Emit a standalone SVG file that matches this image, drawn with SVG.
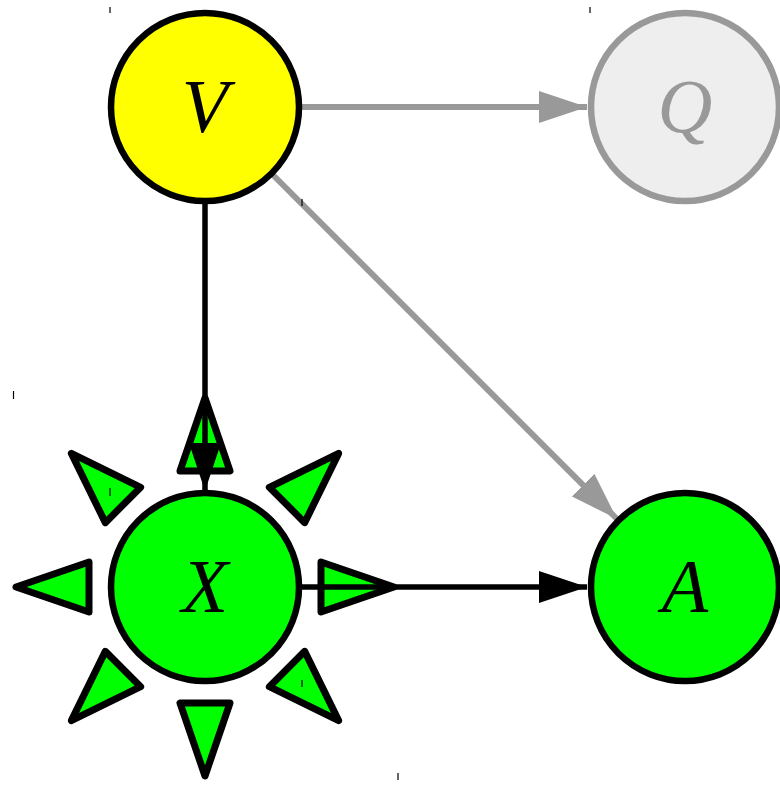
<svg xmlns="http://www.w3.org/2000/svg" width="780" height="785" viewBox="0 0 780 785">
<defs>
<style>
.node{stroke:#000;stroke-width:6.5}
.lbl{font-family:"Liberation Serif","Times New Roman",serif;font-style:italic;font-size:76px;text-anchor:middle}
.edge{stroke:#000;stroke-width:5.5;fill:none}
.gedge{stroke:#999;stroke-width:6;fill:none}
.deco{fill:#00ff00;stroke:#000;stroke-width:7;stroke-linejoin:round}
.tick{stroke:#000;stroke-width:1.2}
</style>
<polygon id="tri" points="116,-25 189,0 116,25"/>
<marker id="ab" markerUnits="userSpaceOnUse" viewBox="0 0 48 32" refX="48" refY="16" markerWidth="48" markerHeight="32" orient="auto"><path d="M0,0 L48,16 L0,32 Z" fill="#000"/></marker>
<marker id="ag" markerUnits="userSpaceOnUse" viewBox="0 0 48 32" refX="48" refY="16" markerWidth="48" markerHeight="32" orient="auto"><path d="M0,0 L48,16 L0,32 Z" fill="#999"/></marker>
</defs>
<rect width="780" height="785" fill="#fff"/>
<g id="decorations" transform="translate(205,587)">
<use href="#tri" class="deco"/>
<use href="#tri" class="deco" transform="rotate(45)"/>
<use href="#tri" class="deco" transform="rotate(90)"/>
<use href="#tri" class="deco" transform="rotate(135)"/>
<use href="#tri" class="deco" transform="rotate(180)"/>
<use href="#tri" class="deco" transform="rotate(225)"/>
<use href="#tri" class="deco" transform="rotate(270)"/>
<use href="#tri" class="deco" transform="rotate(315)"/>
</g>
<g id="connectors">
<line class="gedge" x1="300" y1="107" x2="587" y2="107" marker-end="url(#ag)"/>
<line class="gedge" x1="272" y1="174" x2="617" y2="519" marker-end="url(#ag)"/>
<line class="edge" x1="205" y1="202" x2="205" y2="491" marker-end="url(#ab)"/>
<line class="edge" x1="300" y1="587" x2="587" y2="587" marker-end="url(#ab)"/>
</g>
<g id="V"><circle class="node" cx="205" cy="107" r="94" fill="#ffff00"/><text class="lbl" x="205" y="132">V</text></g>
<g id="Q"><circle cx="685" cy="107" r="94" fill="#eeeeee" stroke="#999" stroke-width="6.5"/><text class="lbl" x="685" y="132" fill="#999">Q</text></g>
<g id="X"><circle class="node" cx="205" cy="587" r="94" fill="#00ff00"/><text class="lbl" x="205" y="612">X</text></g>
<g id="A"><circle class="node" cx="685" cy="587" r="94" fill="#00ff00"/><text class="lbl" x="685" y="612">A</text></g>
<g id="ticks">
<line class="tick" x1="110" y1="7" x2="110" y2="13"/>
<line class="tick" x1="590" y1="7" x2="590" y2="13" stroke="#999"/>
<line class="tick" x1="302" y1="199" x2="302" y2="206"/>
<line class="tick" x1="13.5" y1="391" x2="13.5" y2="399"/>
<line class="tick" x1="110" y1="488" x2="110" y2="496"/>
<line class="tick" x1="302" y1="680" x2="302" y2="687"/>
<line class="tick" x1="398" y1="773" x2="398" y2="780"/>
</g>
</svg>
